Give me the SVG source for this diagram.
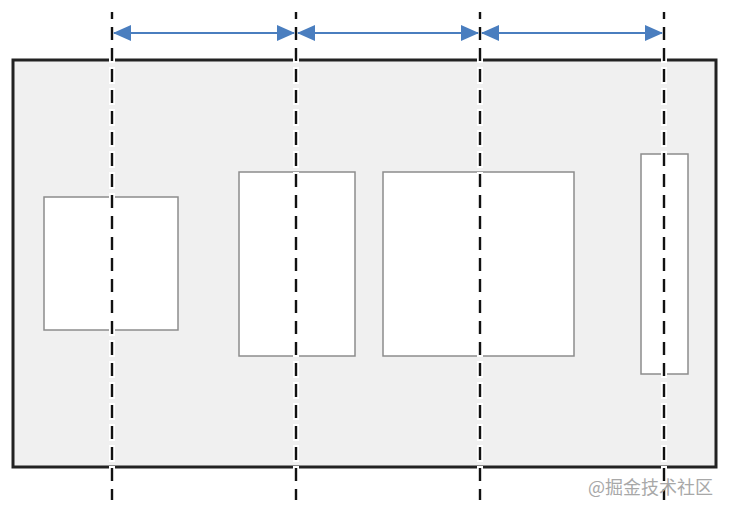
<svg xmlns="http://www.w3.org/2000/svg" width="729" height="513" viewBox="0 0 729 513">
<style>
.box{fill:#fff;stroke:#8c8c8c;stroke-width:1.5}
.halo{stroke:#fff;stroke-width:6;stroke-dasharray:17 4;stroke-dashoffset:8;fill:none}
.dash{stroke:#111;stroke-width:2.4;stroke-dasharray:13 8;stroke-dashoffset:6;fill:none}
.arr{stroke:#4a7ebf;stroke-width:2;fill:none;marker-start:url(#a);marker-end:url(#a)}
</style>
<defs>
<marker id="a" viewBox="0 0 18 16" refX="17" refY="8" markerWidth="18" markerHeight="16" markerUnits="userSpaceOnUse" orient="auto-start-reverse">
<path d="M0,0 L18,8 L0,16 Z" fill="#4a7ebf"/>
</marker>
</defs>
<rect id="frame" x="13" y="60" width="703" height="407" fill="#f0f0f0" stroke="#222" stroke-width="3"/>
<g id="box1"><rect class="box" x="44" y="197" width="134" height="133"/></g>
<g id="box2"><rect class="box" x="239" y="172" width="116" height="184"/></g>
<g id="box3"><rect class="box" x="383" y="172" width="191" height="184"/></g>
<g id="box4"><rect class="box" x="641" y="154" width="47" height="220"/></g>
<g id="connectors">
<line class="halo" x1="112" y1="12" x2="112" y2="500"/>
<line class="halo" x1="296" y1="12" x2="296" y2="500"/>
<line class="halo" x1="480" y1="12" x2="480" y2="500"/>
<line class="halo" x1="664" y1="12" x2="664" y2="500"/>
<line class="dash" x1="112" y1="12" x2="112" y2="500"/>
<line class="dash" x1="296" y1="12" x2="296" y2="500"/>
<line class="dash" x1="480" y1="12" x2="480" y2="500"/>
<line class="dash" x1="664" y1="12" x2="664" y2="500"/>
<line class="arr" x1="114" y1="33" x2="294" y2="33"/>
<line class="arr" x1="298" y1="33" x2="478" y2="33"/>
<line class="arr" x1="482" y1="33" x2="662" y2="33"/>
</g>
<text x="713" y="494" text-anchor="end" font-family="'Noto Sans CJK SC','Noto Sans',sans-serif" font-size="18" fill="#a8a8a8">@掘金技术社区</text>
</svg>
